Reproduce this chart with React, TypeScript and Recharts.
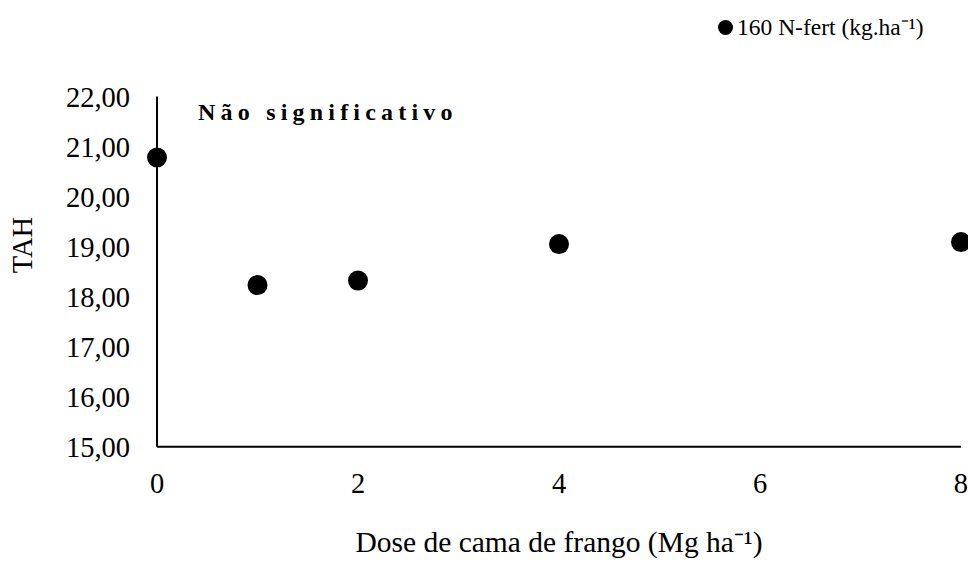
import React from 'react';
import { ScatterChart, Scatter, XAxis, YAxis, Legend, Customized } from 'recharts';

const doses = [0, 1, 2, 4, 8];
const tahValues = [20.78, 18.23, 18.32, 19.05, 19.09];
const xTicks = [0, 2, 4, 6, 8];
const yTicks = [15, 16, 17, 18, 19, 20, 21, 22];
const seriesName = '160 N-fert (kg.ha⁻¹)';
const xTitle = 'Dose de cama de frango (Mg ha⁻¹)';
const yTitle = 'TAH';
const noteText = 'Não significativo';

const data = doses.map((d, i) => ({ dose: d, tah: tahValues[i] }));

const FONT = '"Liberation Serif", "Times New Roman", serif';

const fmt = (v: number) => v.toFixed(2).replace('.', ',');

const Dot = (props: any) => <circle cx={props.cx} cy={props.cy} r={10} fill="#000" />;

const LegendContent = (props: any) => {
  const p = props.payload && props.payload[0];
  return (
    <div style={{ display: 'flex', alignItems: 'center', fontFamily: FONT, fontSize: 23.5, lineHeight: '26px', color: '#000', whiteSpace: 'nowrap' }}>
      <span style={{ display: 'inline-block', width: 15, height: 15, borderRadius: 7.5, background: '#000', marginRight: 4 }} />
      <span>{p ? p.value : seriesName}</span>
    </div>
  );
};

const Note = () => (
  <text x={198} y={120} fontFamily={FONT} fontSize={24} fontWeight="bold" letterSpacing={5.2} fill="#000">
    {noteText}
  </text>
);

export default function App() {
  return (
    <div style={{ position: 'absolute', left: 0, top: 0, width: 968, height: 563, background: '#fff' }}>
      <ScatterChart width={968} height={563} margin={{ top: 96.5, right: 7, bottom: 0, left: 0 }}>
        <XAxis
          type="number"
          dataKey="dose"
          domain={[0, 8]}
          ticks={xTicks}
          height={116.3}
          tickLine={false}
          tickSize={0}
          tickMargin={26}
          axisLine={{ stroke: '#000', strokeWidth: 2 }}
          tick={{ fontFamily: FONT, fontSize: 28.5, fill: '#000' }}
          label={{
            content: (p: any) => (
              <text
                x={p.viewBox.x + p.viewBox.width / 2}
                y={552}
                textAnchor="middle"
                fontFamily={FONT}
                fontSize={29.5}
                fill="#000"
              >
                {xTitle}
              </text>
            ),
          }}
        />
        <YAxis
          type="number"
          dataKey="tah"
          domain={[15, 22]}
          ticks={yTicks}
          width={157}
          tickLine={false}
          tickSize={0}
          tickMargin={27}
          axisLine={{ stroke: '#000', strokeWidth: 2 }}
          tick={{ fontFamily: FONT, fontSize: 28.5, fill: '#000' }}
          tickFormatter={fmt}
          label={{
            content: () => (
              <text
                x={22.5}
                y={245}
                transform="rotate(-90 22.5 245)"
                textAnchor="middle"
                dominantBaseline="central"
                fontFamily={FONT}
                fontSize={28.5}
                fill="#000"
              >
                {yTitle}
              </text>
            ),
          }}
        />
        <Legend
          layout="vertical"
          verticalAlign="middle"
          align="center"
          content={<LegendContent />}
          wrapperStyle={{ position: 'absolute', top: 14, left: 718, width: 250 }}
        />
        <Scatter name={seriesName} data={data} fill="#000" shape={<Dot />} isAnimationActive={false} />
        <Customized component={Note} />
      </ScatterChart>
    </div>
  );
}
